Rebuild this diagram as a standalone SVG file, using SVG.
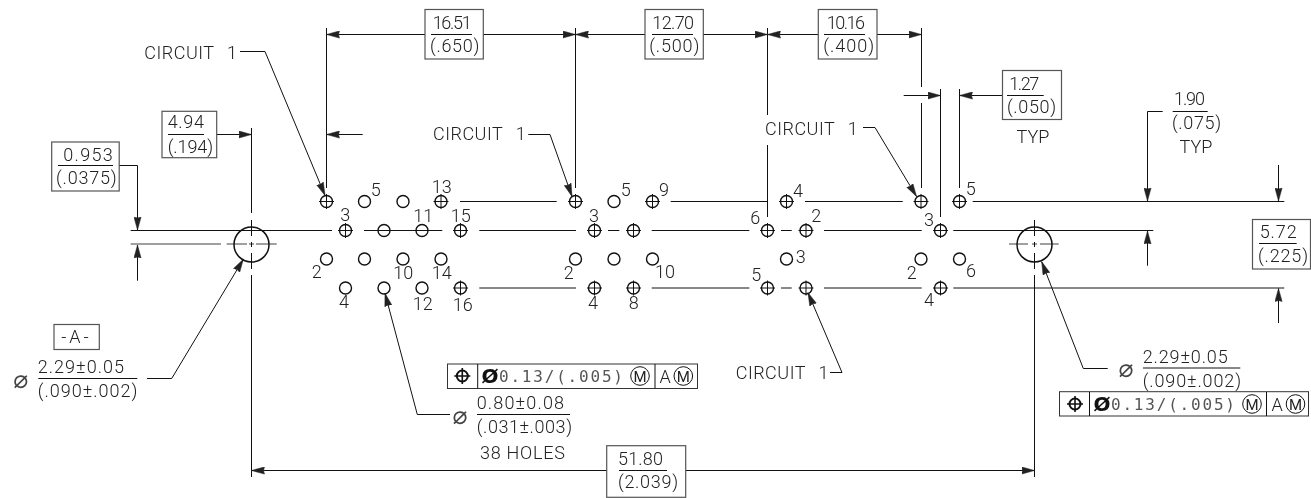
<svg xmlns="http://www.w3.org/2000/svg" width="1311" height="498" viewBox="0 0 1311 498">
<style>
text{font-family:Roboto,"Liberation Sans",Arial,sans-serif;font-weight:300;font-size:18px;fill:#222}
.c{text-anchor:middle}
.l{fill:none;stroke:#111;stroke-width:1}
.b{fill:none;stroke:#555;stroke-width:1.2}
.h{fill:none;stroke:#111;stroke-width:1.4}
.big{fill:none;stroke:#111;stroke-width:1.5}
.m{font-family:"DejaVu Sans Mono",monospace;font-weight:400;font-size:16px;fill:#555}
.s{font-family:"DejaVu Sans",sans-serif;font-weight:400;font-size:25px;fill:#444}
.fd{font-family:"DejaVu Sans",sans-serif;font-weight:700;font-size:20px;fill:#111}
.mm{font-size:15px;font-weight:400}
.ct{word-spacing:8px;letter-spacing:.5px}
.a{marker-end:url(#ar)}
</style>
<defs>
<filter id="flat" filterUnits="userSpaceOnUse" x="0" y="0" width="1311" height="498" color-interpolation-filters="sRGB"><feOffset dx="0" dy="0"/></filter>
<marker id="ar" markerUnits="userSpaceOnUse" markerWidth="14" markerHeight="8" refX="13" refY="4" orient="auto"><path d="M13,4L0,.4L1,4L0,7.6Z" fill="#222" stroke="#222" stroke-width=".5"/></marker>
<g id="o"><circle r="6" class="h"/></g>
<g id="x"><circle r="6" class="h"/><path d="M-7.5,0H7.5M0,-7.5V7.5" class="l"/></g>
<g id="pos"><circle r="5.5" fill="none" stroke="#111" stroke-width="2"/><path d="M-8,0H8M0,-8V8" stroke="#111" stroke-width="1.6"/></g>
</defs>
<rect width="1311" height="498" fill="#fff"/>
<g id="drawing" filter="url(#flat)">
<g id="connectors">
<path class="l" d="M460,201.5H556.7M670.7,201.5H768M805,201.5H902.7M972.7,201.5H1284.3"/>
<path class="l" d="M130.7,230.5H332M364,230.5H442.3M479.3,230.5H576M608,230.5H619.3M651.7,230.5H749.3M781,230.5H791.7M824,230.5H921.7M953.3,230.5H1153.3"/>
<path class="l" d="M479.3,288H576M651.7,288H749.3M781,288H791.7M824,288H921.7M953.3,288H1284.3"/>
<path class="l" stroke-opacity=".8" d="M130.7,244H221M226.7,244H247M249,244H254M256,244H276.7M1009,244H1028M1032,244H1037M1040,244H1058.7"/>
<path class="l" d="M251.5,128V213M251.5,220V236M251.5,242V247M251.5,253V269M251.5,275V477M1034.5,220V236M1034.5,242V247M1034.5,253V269M1034.5,275V477"/>
<path class="l" d="M326.5,28V188M575.5,28V188M767.5,28V115M767.5,145V217M921.5,28V87M921.5,103V188M940.5,89V217M959.5,89V188"/>
<path class="l a" d="M425,34.5H326.5"/>
<path class="l a" d="M483,34.5H575.5"/>
<path class="l a" d="M645,34.5H575.5"/>
<path class="l a" d="M703,34.5H767.5"/>
<path class="l a" d="M818,34.5H767.5"/>
<path class="l a" d="M877,34.5H921.5"/>
<path class="l a" d="M362.7,134.5H326.5"/>
<path class="l a" d="M217,134.5H251.5"/>
<path class="l a" d="M903.7,95.5H940.5"/>
<path class="l a" d="M1002,95.5H959.5"/>
<path class="l a" d="M119,165.5H137.5V230"/>
<path class="l a" d="M137.5,280.7V245"/>
<path class="l a" d="M1162.7,111.5H1147.5V201"/>
<path class="l a" d="M1278.5,165V201"/>
<path class="l a" d="M1147.5,265.7V231"/>
<path class="l a" d="M1278.5,323V288.5"/>
<path class="l a" d="M607,470.5H251.5"/>
<path class="l a" d="M686,470.5H1034.5"/>
<path class="l a" d="M240,51.5H265L325,195.5"/>
<path class="l a" d="M528.3,134.5H550L572,196.5"/>
<path class="l a" d="M863,127.5H875L916.5,196.5"/>
<path class="l a" d="M830,372.5H842L808,292.7"/>
<path class="l a" d="M147,378.5H171.7L243.3,259.3"/>
<path class="l a" d="M450,414.5H417.3L385,293.3"/>
<path class="l a" d="M1107.7,368.5H1083.3L1041.7,261.7"/>
</g>

<g id="datum-left"><circle cx="251.5" cy="244.5" r="17.5" class="big"/></g>
<g id="datum-right"><circle cx="1034.5" cy="244.5" r="17.5" class="big"/></g>

<g id="cluster-1">
<use href="#x" x="326.5" y="201.5"/><use href="#o" x="364.5" y="201.5"/><use href="#o" x="403" y="201.5"/><use href="#x" x="441" y="201.5"/>
<use href="#x" x="345.5" y="230.5"/><use href="#o" x="384" y="230.5"/><use href="#o" x="422" y="230.5"/><use href="#x" x="460.5" y="230.5"/>
<use href="#o" x="326.5" y="259"/><use href="#o" x="364.5" y="259"/><use href="#o" x="403" y="259"/><use href="#o" x="441" y="259"/>
<use href="#o" x="345.5" y="288"/><use href="#o" x="384" y="288"/><use href="#o" x="422" y="288"/><use href="#x" x="460.5" y="288"/>
<text class="c" x="375.7" y="195.7">5</text><text class="c" x="441.7" y="192.7">13</text><text class="c" x="345.3" y="221">3</text><text class="c" x="423.3" y="221.7">11</text><text class="c" x="460.7" y="221.7">15</text>
<text class="c" x="316.7" y="278.3">2</text><text class="c" x="403.3" y="279.3">10</text><text class="c" x="441.7" y="279.3">14</text><text class="c" x="344" y="308.3">4</text><text class="c" x="422.7" y="310">12</text><text class="c" x="462.7" y="311">16</text>
</g>
<g id="cluster-2">
<use href="#x" x="575.5" y="201.5"/><use href="#o" x="614" y="201.5"/><use href="#x" x="652.5" y="201.5"/>
<use href="#x" x="594.5" y="230.5"/><use href="#x" x="633.5" y="230.5"/>
<use href="#o" x="575.5" y="259"/><use href="#o" x="614" y="259"/><use href="#o" x="652.5" y="259"/>
<use href="#x" x="594.5" y="288"/><use href="#x" x="633.5" y="288"/>
<text class="c" x="625.7" y="195.7">5</text><text class="c" x="664" y="195.7">9</text><text class="c" x="594" y="221.7">3</text><text class="c" x="568.7" y="279.3">2</text><text class="c" x="665" y="278.3">10</text><text class="c" x="593" y="309.3">4</text><text class="c" x="633.7" y="309.3">8</text>
</g>
<g id="cluster-3">
<use href="#x" x="786.5" y="201.5"/><use href="#x" x="767.5" y="230.5"/><use href="#x" x="806" y="230.5"/><use href="#o" x="786.5" y="259"/><use href="#x" x="767.5" y="288"/><use href="#x" x="806" y="288"/>
<text class="c" x="798" y="196.7">4</text><text class="c" x="755.3" y="224">6</text><text class="c" x="816.3" y="222.3">2</text><text class="c" x="800.7" y="263.3">3</text><text class="c" x="756.3" y="281">5</text>
</g>
<g id="cluster-4">
<use href="#x" x="921" y="201.5"/><use href="#x" x="959.5" y="201.5"/><use href="#x" x="940.5" y="230.5"/><use href="#o" x="921" y="259"/><use href="#o" x="959.5" y="259"/><use href="#x" x="940.5" y="288"/>
<text class="c" x="970.7" y="195">5</text><text class="c" x="929" y="225.7">3</text><text class="c" x="911.7" y="279.3">2</text><text class="c" x="971" y="276.7">6</text><text class="c" x="929" y="306">4</text>
</g>

<g id="dim-0953"><rect class="b" x="51.7" y="142" width="67.5" height="49"/><text x="63.3" y="160.7" textLength="49.4">0.953</text><path class="l" d="M58,165.5H113"/><text x="56" y="184" textLength="60.7">(.0375)</text></g>
<g id="dim-494"><rect class="b" x="162" y="111.3" width="54.7" height="46.4"/><text x="167.7" y="128.3" textLength="36.3">4.94</text><path class="l" d="M168,134.5H204"/><text x="167.7" y="152.7" textLength="45.3">(.194)</text></g>
<g id="dim-1651"><rect class="b" x="425" y="9.5" width="58.3" height="49.5"/><text x="432.7" y="29.3" textLength="39">16.51</text><path class="l" d="M431,34.5H472"/><text x="430" y="52.3" textLength="49.3">(.650)</text></g>
<g id="dim-1270"><rect class="b" x="645" y="9.5" width="58.3" height="49.5"/><text x="652.3" y="29.3" textLength="41.7">12.70</text><path class="l" d="M652,34.5H693"/><text x="649.3" y="52.3" textLength="50">(.500)</text></g>
<g id="dim-1016"><rect class="b" x="818.3" y="9.5" width="58.7" height="49.5"/><text x="826.7" y="29.3" textLength="38.3">10.16</text><path class="l" d="M824,34.5H865"/><text x="823.3" y="52.3" textLength="50.7">(.400)</text></g>
<g id="dim-127"><rect class="b" x="1002.5" y="70.5" width="59" height="49"/><text x="1009.3" y="90" textLength="30">1.27</text><path class="l" d="M1007,95.5H1043.7"/><text x="1007" y="113.3" textLength="49">(.050)</text><text class="c" x="1033" y="142.7">TYP</text></g>
<g id="dim-190"><text x="1174" y="105" textLength="31">1.90</text><path class="l" d="M1172.7,111.5H1207.7"/><text x="1172" y="129" textLength="49">(.075)</text><text class="c" x="1196" y="153.3">TYP</text></g>
<g id="dim-572"><rect class="b" x="1252.5" y="219.5" width="58" height="49.5"/><text x="1259.7" y="238.3" textLength="37">5.72</text><path class="l" d="M1259,243.5H1296.7"/><text x="1258" y="261.7" textLength="50">(.225)</text></g>
<g id="dim-5180"><rect class="b" x="606.7" y="445.7" width="79" height="51.6"/><text x="618" y="465" textLength="45">51.80</text><path class="l" d="M619,470.5H667"/><text x="618" y="488.3" textLength="60">(2.039)</text></g>

<g id="callout-1"><text class="ct" x="144.3" y="59.3">CIRCUIT 1</text></g>
<g id="callout-2"><text class="ct" x="433" y="140">CIRCUIT 1</text></g>
<g id="callout-3"><text class="ct" x="765" y="135">CIRCUIT 1</text></g>
<g id="callout-4"><text class="ct" x="735.7" y="379.3">CIRCUIT 1</text></g>

<g id="datum-a"><rect class="b" x="54" y="324.5" width="45.3" height="25"/><text class="c" x="76.5" y="343" style="letter-spacing:3px">-A-</text></g>
<g id="hole-left"><text class="s c" x="20.7" y="387.5">⌀</text><text x="37.7" y="373.3" textLength="86.3">2.29±0.05</text><path class="l" d="M38.3,378.5H137.3"/><text x="37.7" y="397.3" textLength="99.6">(.090±.002)</text></g>
<g id="hole-mid"><text class="s c" x="460" y="423.5">⌀</text><text x="476.7" y="409.3" textLength="87.3">0.80±0.08</text><path class="l" d="M477,414.5H570"/><text x="476.7" y="432.7" textLength="95.3">(.031±.003)</text><text x="480" y="459.3" textLength="85">38 HOLES</text></g>
<g id="hole-right"><text class="s c" x="1126" y="377">⌀</text><text x="1142.7" y="363.3" textLength="85">2.29±0.05</text><path class="l" d="M1143,368H1240.3"/><text x="1142.7" y="386.7" textLength="98.3">(.090±.002)</text></g>

<g id="frame-mid"><rect x="447.5" y="364" width="250" height="24.5" fill="none" stroke="#333"/><path class="l" d="M477.7,364V388.5M655,364V388.5"/><use href="#pos" x="462.3" y="376"/><text class="fd c" x="490" y="383">Ø</text><text class="m" x="499" y="382" textLength="124">0.13/(.005)</text><circle cx="640" cy="376" r="9.3" class="l"/><text class="c mm" x="640" y="381.5">M</text><text class="c" x="665" y="382.5">A</text><circle cx="683.3" cy="376" r="9.3" class="l"/><text class="c mm" x="683.3" y="381.5">M</text></g>
<g id="frame-right"><rect x="1059.5" y="391.7" width="249" height="24.3" fill="none" stroke="#333"/><path class="l" d="M1089.5,392V416M1266.5,392V416"/><use href="#pos" x="1075" y="404"/><text class="fd c" x="1102" y="411">Ø</text><text class="m" x="1111" y="410" textLength="124">0.13/(.005)</text><circle cx="1252" cy="404" r="9.3" class="l"/><text class="c mm" x="1252" y="409.5">M</text><text class="c" x="1277" y="410.5">A</text><circle cx="1295.5" cy="404" r="9.3" class="l"/><text class="c mm" x="1295.5" y="409.5">M</text></g>
</g>
</svg>
